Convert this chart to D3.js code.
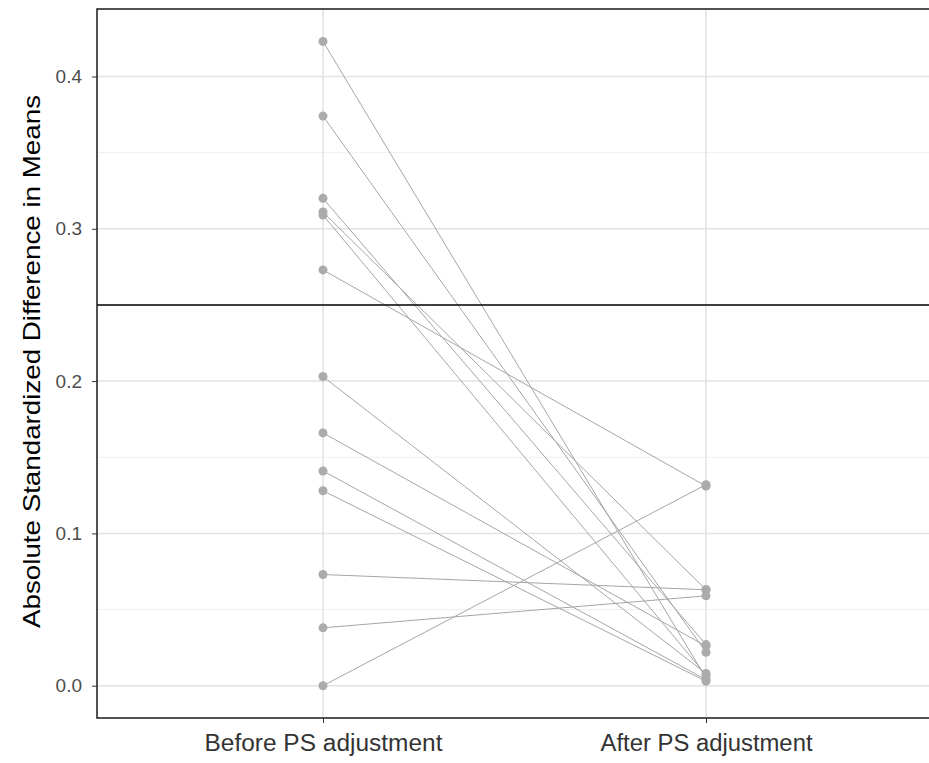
<!DOCTYPE html>
<html>
<head>
<meta charset="utf-8">
<script src="https://cdn.jsdelivr.net/npm/d3@7"></script>
<style>
  body { margin: 0; background: #fff; }
  text { font-family: "Liberation Sans", Arial, sans-serif; }
</style>
</head>
<body>
<div id="chart"></div>
<script>
/* standardized differences before / after PS adjustment */

const groups = ["Before PS adjustment", "After PS adjustment"];
const beforeVals = [0.423, 0.374, 0.320, 0.311, 0.309, 0.273, 0.203, 0.166, 0.141, 0.128, 0.073, 0.038, 0.000];
const afterVals  = [0.005, 0.022, 0.027, 0.063, 0.007, 0.131, 0.008, 0.026, 0.004, 0.003, 0.063, 0.059, 0.132];
const yTicks = [0.0, 0.1, 0.2, 0.3, 0.4];
const threshold = 0.25;

const width = 929, height = 763,
    margin = ({top: 9, right: -3, bottom: 45, left: 97});

const svg = d3.select("#chart")
    .append("svg")
    .attr("width", width)
    .attr("height", height);

const x = d3.scalePoint() // discrete positions with ggplot-like padding
    .domain(groups)
    .range([margin.left, width - margin.right])
    .padding(0.59);

const y = d3.scaleLinear()
    .domain([-0.0212, 0.4443])
    .range([height - margin.bottom, margin.top]);

// panel grid
const minor = d3.range(0.05, 0.45, 0.1);
svg.append("g").selectAll("line")
    .data(minor)
    .join("line")
    .attr("x1", margin.left).attr("x2", width)
    .attr("y1", d => y(d)).attr("y2", d => y(d))
    .attr("stroke", "#efefef").attr("stroke-width", 1);

svg.append("g").selectAll("line")
    .data(yTicks)
    .join("line")
    .attr("x1", margin.left).attr("x2", width)
    .attr("y1", d => y(d)).attr("y2", d => y(d))
    .attr("stroke", "#e2e2e2").attr("stroke-width", 1.5);

svg.append("g").selectAll("line")
    .data(groups)
    .join("line")
    .attr("x1", d => x(d)).attr("x2", d => x(d))
    .attr("y1", margin.top).attr("y2", height - margin.bottom)
    .attr("stroke", "#e2e2e2").attr("stroke-width", 1.5);

// connecting lines
const pairs = beforeVals.map((b, i) => ({b: b, a: afterVals[i]}));

svg.append("g").selectAll("line")
    .data(pairs)
    .join("line")
    .attr("x1", x(groups[0])).attr("x2", x(groups[1]))
    .attr("y1", d => y(d.b)).attr("y2", d => y(d.a))
    .attr("stroke", "#a6a6a6").attr("stroke-width", 1);

// points
const pts = pairs.flatMap(d => [{g: groups[0], v: d.b}, {g: groups[1], v: d.a}]);
svg.append("g").selectAll("circle")
    .data(pts)
    .join("circle")
    .attr("cx", d => x(d.g))
    .attr("cy", d => y(d.v))
    .attr("r", 4.5)
    .attr("fill", "#ababab");

// threshold line
svg.append("line")
    .attr("x1", margin.left).attr("x2", width)
    .attr("y1", y(threshold)).attr("y2", y(threshold))
    .attr("stroke", "#000").attr("stroke-width", 1.5);

// panel border
svg.append("rect")
    .attr("x", margin.left).attr("y", margin.top)
    .attr("width", width - margin.left + 10)
    .attr("height", height - margin.bottom - margin.top)
    .attr("fill", "none")
    .attr("stroke", "#1a1a1a").attr("stroke-width", 1.5);

// axes
const yAxis = svg.append("g")
    .attr("transform", `translate(${margin.left},0)`)
    .call(d3.axisLeft(y).tickValues(yTicks).tickFormat(d3.format(".1f")).tickSize(5).tickPadding(10));
yAxis.select(".domain").remove();
yAxis.selectAll(".tick line").attr("stroke", "#333");
yAxis.selectAll(".tick text").attr("fill", "#4d4d4d").style("font-size", "19px");

const labelWidths = [238, 212];
const xAxis = svg.append("g")
    .attr("transform", `translate(0,${height - margin.bottom})`)
    .call(d3.axisBottom(x).tickSize(5).tickPadding(12));
xAxis.select(".domain").remove();
xAxis.selectAll(".tick line").attr("stroke", "#333");
xAxis.selectAll(".tick text")
    .attr("fill", "#333")
    .attr("textLength", (d, i) => labelWidths[i])
    .attr("lengthAdjust", "spacingAndGlyphs")
    .style("font-size", "23px");

// y title
svg.append("text")
    .attr("transform", `translate(40,${(margin.top + height - margin.bottom) / 2 - 2}) rotate(-90)`)
    .attr("text-anchor", "middle")
    .attr("fill", "#000")
    .attr("textLength", 533)
    .attr("lengthAdjust", "spacingAndGlyphs")
    .style("font-size", "24px")
    .text("Absolute Standardized Difference in Means");
</script>
</body>
</html>
